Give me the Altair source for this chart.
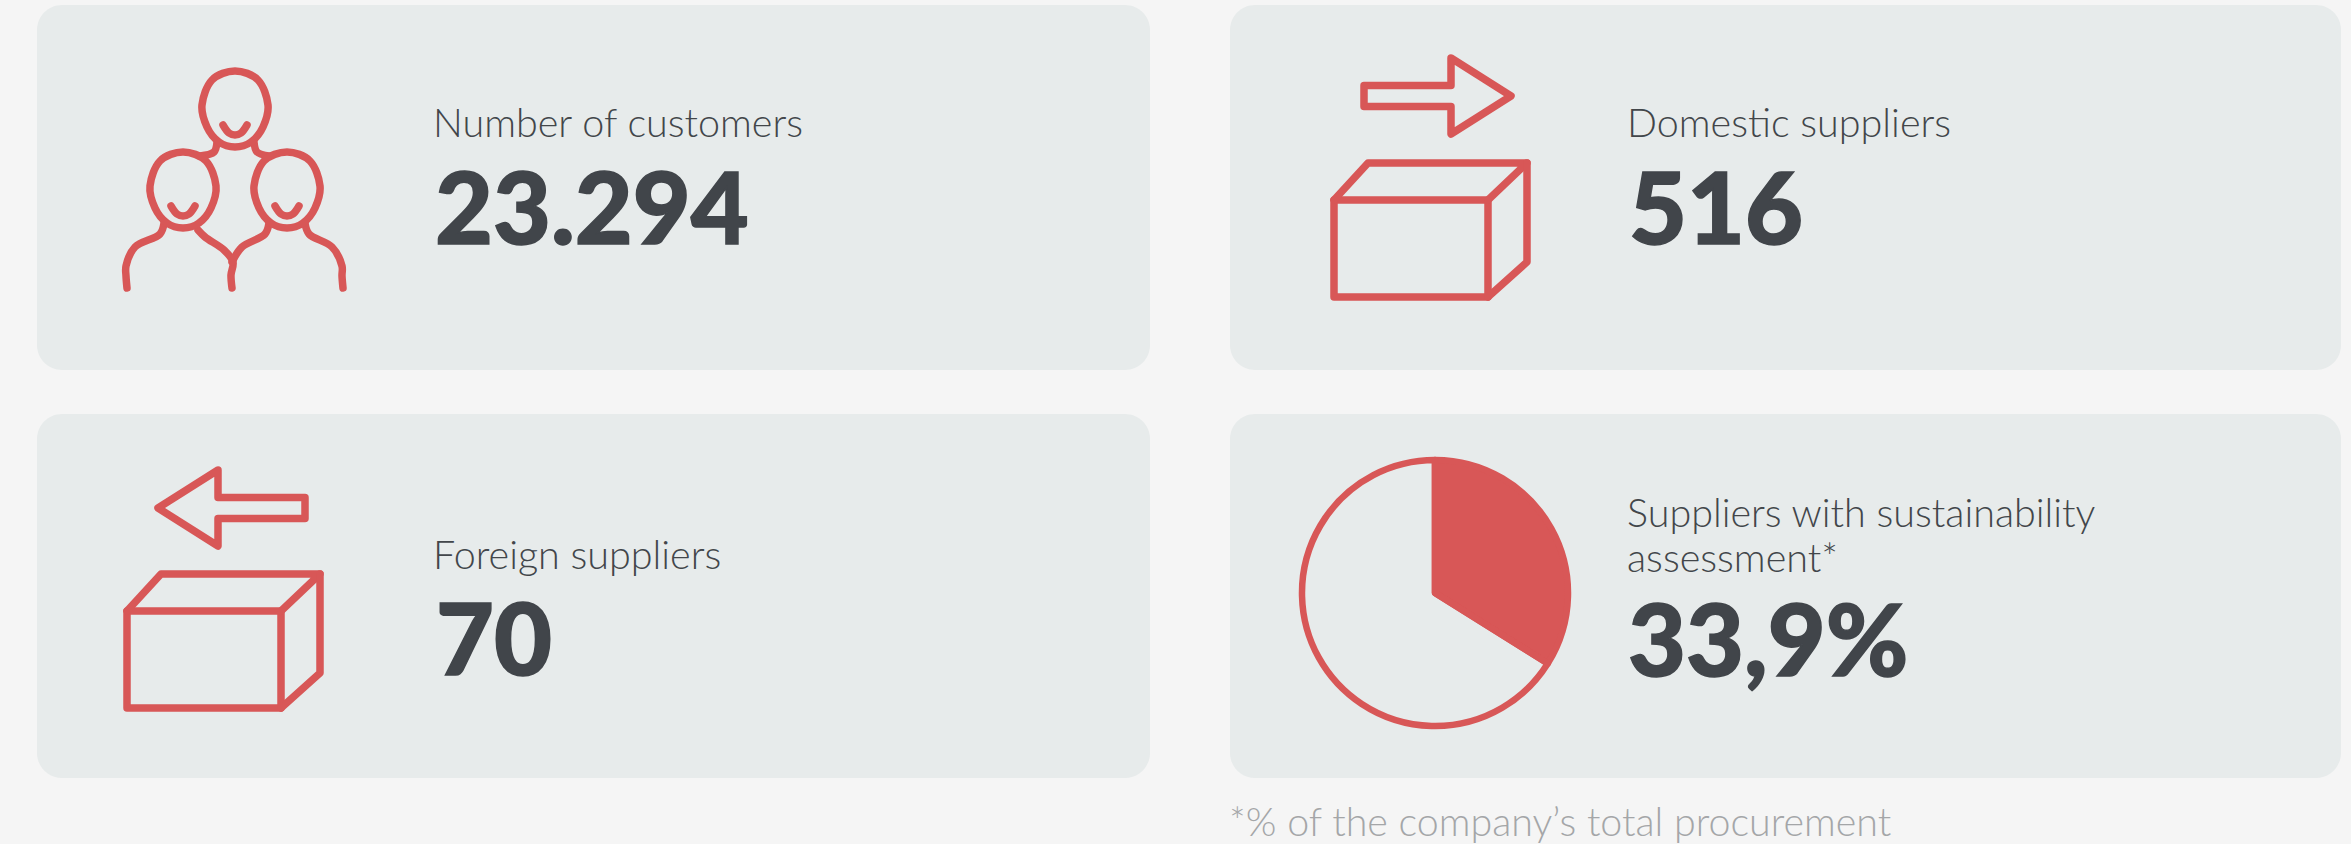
import altair as alt
import pandas as pd

# ---- text and figures ----
CARD_LABELS = ["Number of customers", "Domestic suppliers", "Foreign suppliers",
               "Suppliers with sustainability", "assessment*"]
CARD_VALUES = ["23.294", "516", "70", "33,9%"]
FOOTNOTE = ["*% of the company\u2019s total procurement"]
ASSESSED_SHARE = 33.9

# ---- palette ----
PAGE = "#f5f5f5"
CARD = "#e7ebeb"
RED = "#d85757"
DARK = "#41454a"
LABEL = "#42464a"
NOTE = "#a4a6a8"
STROKE = 7.5

# ---- layout on a 2351 x 844 canvas ----
W, H = 2351, 844
card_x = [37, 1230, 37, 1230]
card_x2 = [1150, 2341, 1150, 2341]
card_y = [5, 5, 414, 414]
card_y2 = [370, 370, 778, 778]
label_x = [433, 1627, 433, 1627, 1627]
label_y = [137, 137, 569, 527, 572]
value_x = [435, 1629, 436, 1628]
value_y = [244, 244, 675, 676]
note_x = [1229]
note_y = [836]
pie_x, pie_y = 1435, 593

# ---- icon outlines, relative to an anchor ----
box_front_dx = [0, 154, 154, 0, 0]
box_front_dy = [0, 0, 97, 97, 0]
box_lid_dx = [0, 34, 193, 154]
box_lid_dy = [0, -37, -37, 0]
box_side_dx = [193, 193, 154]
box_side_dy = [-37, 62, 97]
arrow_dx = [-147, -60, -60, 0, -60, -60, -147, -147]
arrow_dy = [-10.5, -10.5, -38, 0, 38, 10.5, 10.5, -10.5]
head_dx = [0, 23, 33, 28, 16, 0, -16, -28, -33, -23]
head_dy = [0, 9, 34, 56, 71, 76, 71, 56, 34, 9]
smile_dx = [-12, -6, 0, 6, 12]
smile_dy = [54, 62, 64, 62, 54]
# anchors: (front box corner), (arrow tip, direction), (head top)
boxes = [(1334, 200), (127, 611)]
arrows = [(1511, 96, 1), (158, 508, -1)]
heads = [(235, 71), (183, 152), (287, 152)]
# shoulder and neck lines of the three figures
neck_top_l = ([217, 214, 200], [142, 152, 156])
neck_top_r = ([254, 257, 269], [142, 152, 156])
body_left_l = ([164, 160, 135, 126, 126, 127], [223, 234, 247, 266, 276, 288])
body_left_r = ([198, 205, 224, 233, 231, 232], [230, 237, 250, 262, 275, 288])
body_right_l = ([269, 265, 242, 232], [223, 234, 247, 262])
body_right_r = ([305, 309, 332, 342, 342, 343], [223, 234, 247, 266, 276, 288])

straight, curved, closed = [], [], []


def add(rows, name, xs, ys):
    for i, (px, py) in enumerate(zip(xs, ys)):
        rows.append({"path": name, "seq": i, "px": px, "py": py})


for b, (ax, ay) in enumerate(boxes):
    add(straight, f"front{b}", [ax + d for d in box_front_dx], [ay + d for d in box_front_dy])
    add(straight, f"lid{b}", [ax + d for d in box_lid_dx], [ay + d for d in box_lid_dy])
    add(straight, f"side{b}", [ax + d for d in box_side_dx], [ay + d for d in box_side_dy])
for a, (ax, ay, sign) in enumerate(arrows):
    add(straight, f"arrow{a}", [ax + sign * d for d in arrow_dx], [ay + d for d in arrow_dy])
for h, (ax, ay) in enumerate(heads):
    add(closed, f"head{h}", [ax + d for d in head_dx], [ay + d for d in head_dy])
    add(curved, f"smile{h}", [ax + d for d in smile_dx], [ay + d for d in smile_dy])
for n, line in enumerate([neck_top_l, neck_top_r, body_left_l, body_left_r, body_right_l, body_right_r]):
    add(curved, f"body{n}", line[0], line[1])

# ---- shared canvas scales ----
X = alt.X("px:Q", axis=None, scale=alt.Scale(domain=[0, W], nice=False, zero=False))
Y = alt.Y("py:Q", axis=None, scale=alt.Scale(domain=[H, 0], nice=False, zero=False))

cards = alt.Chart(pd.DataFrame({"px": card_x, "px2": card_x2, "py": card_y, "py2": card_y2})).mark_rect(
    color=CARD, cornerRadius=25
).encode(x=X, x2="px2:Q", y=Y, y2="py2:Q")


def lines(rows, interpolate):
    return alt.Chart(pd.DataFrame(rows)).mark_line(
        color=RED, strokeWidth=STROKE, strokeCap="round", strokeJoin="round",
        interpolate=interpolate,
    ).encode(x=X, y=Y, detail="path:N", order="seq:Q")


pie_df = pd.DataFrame({
    "part": ["assessed", "rest"],
    "start": [0, ASSESSED_SHARE],
    "end": [ASSESSED_SHARE, 100],
    "px": [pie_x, pie_x],
    "py": [pie_y, pie_y],
})
pie = alt.Chart(pie_df).mark_arc(radius=133, stroke=RED, strokeWidth=6.5, strokeJoin="round").encode(
    x=X, y=Y,
    theta=alt.Theta("start:Q", scale=alt.Scale(domain=[0, 100], range=[0, 6.283185307])),
    theta2="end:Q",
    fill=alt.Fill("part:N", legend=None,
                  scale=alt.Scale(domain=["assessed", "rest"], range=[RED, "transparent"])),
)


def texts(strings, xs, ys, size, weight, color, outline=0):
    df = pd.DataFrame({"txt": strings, "px": xs, "py": ys})
    return alt.Chart(df).mark_text(
        align="left", baseline="alphabetic", font="Lato", fontSize=size,
        fontWeight=weight, color=color, stroke=color, strokeWidth=outline,
    ).encode(x=X, y=Y, text="txt:N")


chart = alt.layer(
    cards,
    lines(straight, "linear"),
    lines(curved, "catmull-rom"),
    lines(closed, "cardinal-closed"),
    pie,
    texts(CARD_LABELS, label_x, label_y, 39.5, 300, LABEL),
    texts(CARD_VALUES, value_x, value_y, 100, 900, DARK, outline=1.5),
    texts(FOOTNOTE, note_x, note_y, 39.4, 300, NOTE),
).properties(
    width=W, height=H, background=PAGE, padding=0,
    autosize=alt.AutoSizeParams(type="none"),
).configure_view(stroke=None)

chart.save("out.html", embed_options={"renderer": "svg", "actions": False})
